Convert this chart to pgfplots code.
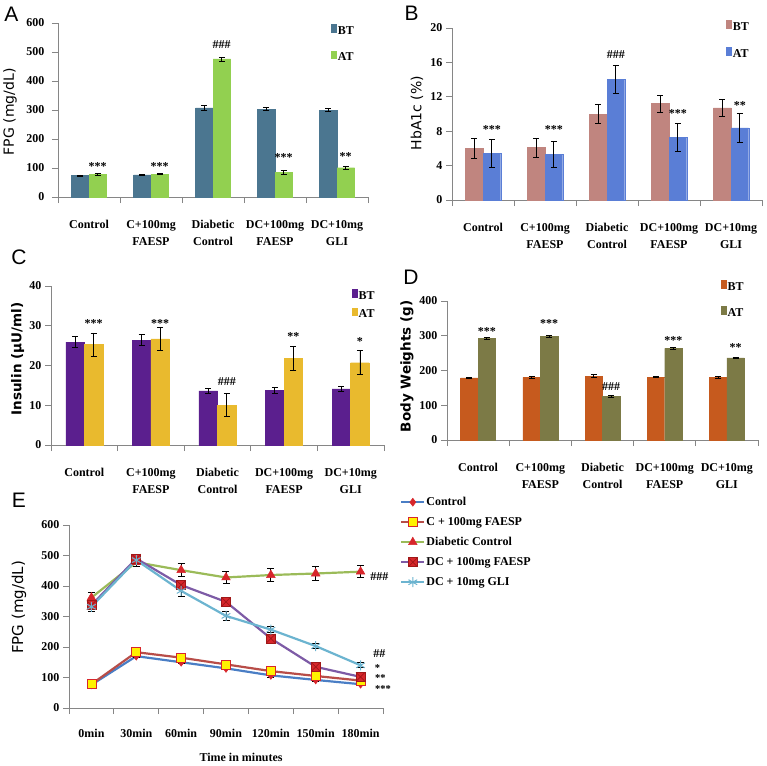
\documentclass[border=0pt]{standalone}
\usepackage{fontspec}
\usepackage{pgfplots}
\pgfplotsset{compat=1.18}
\setmainfont{Liberation Serif}
\newfontfamily\lsans{Liberation Sans}
\newfontfamily\dsans{DejaVu Sans}
\definecolor{axgray}{HTML}{868686}
\definecolor{aBT}{HTML}{4B7690}
\definecolor{aAT}{HTML}{92D050}
\definecolor{bBT}{HTML}{C0857F}
\definecolor{bAT}{HTML}{5A7ED6}
\definecolor{cBT}{HTML}{5B1F8E}
\definecolor{cAT}{HTML}{E9BA2E}
\definecolor{dBT}{HTML}{C65A1E}
\definecolor{dAT}{HTML}{7C7A46}
\definecolor{eC}{HTML}{4A7EC5}
\definecolor{eCF}{HTML}{B84D48}
\definecolor{eDC}{HTML}{9BBB59}
\definecolor{eDF}{HTML}{7D5BA6}
\definecolor{eG}{HTML}{6CB4D0}
\definecolor{mred}{HTML}{D7262B}
\definecolor{dred}{HTML}{A01818}
\newcommand{\tf}{\bfseries\fontsize{12}{14}\selectfont}
\newcommand{\sgf}{\bfseries\fontsize{12}{12}\selectfont}
\newcommand{\ssgf}{\bfseries\fontsize{10.5}{10.5}\selectfont}
\newcommand{\ylf}{\dsans\fontsize{14}{14}\selectfont}
\newcommand{\ylbf}{\dsans\bfseries\fontsize{13.5}{14}\selectfont}
\newcommand{\letf}{\lsans\fontsize{21}{21}\selectfont}
\pgfdeclareplotmark{sqx}{%
  \pgfpathrectangle{\pgfqpoint{-\pgfplotmarksize}{-\pgfplotmarksize}}{\pgfqpoint{2\pgfplotmarksize}{2\pgfplotmarksize}}%
  \pgfusepathqfillstroke
  \pgfpathmoveto{\pgfqpoint{-\pgfplotmarksize}{-\pgfplotmarksize}}%
  \pgfpathlineto{\pgfqpoint{\pgfplotmarksize}{\pgfplotmarksize}}%
  \pgfpathmoveto{\pgfqpoint{-\pgfplotmarksize}{\pgfplotmarksize}}%
  \pgfpathlineto{\pgfqpoint{\pgfplotmarksize}{-\pgfplotmarksize}}%
  \pgfusepathqstroke}
\tikzset{sig/.style={font=\sgf, inner sep=0pt}, ssig/.style={font=\ssgf, inner sep=0pt}}
\pgfplotsset{
 base/.style={
  scale only axis, clip=false,
  axis x line*=bottom, axis y line*=left,
  axis line style={draw=axgray, line width=0.9pt},
  tick style={draw=axgray, line width=0.9pt},
  tick align=outside, major tick length=6pt,
  ymin=0,
  /pgf/number format/assume math mode=true,
  tick label style={font=\tf},
  ylabel style={anchor=center},
 },
 barleg/.style={legend image code/.code={\fill[##1, draw=none] (0pt,-1.5pt) rectangle (5.5pt,7pt);}},
 eleg/.style={legend image code/.code={\draw[##1, mark repeat=2, mark phase=2] plot coordinates {(0pt,0pt) (11.5pt,0pt) (23pt,0pt)};}},
 barax/.style={base,
  ybar=0pt, bar width=17.5pt,
  xmin=0.5, xmax=5.5,
  xtick={0.5,1.5,2.5,3.5,4.5,5.5}, xticklabels={},
  extra x ticks={1,2,3,4,5},
  extra x tick labels={{Control},{C+100mg\\FAESP},{Diabetic\\Control},{DC+100mg\\FAESP},{DC+10mg\\GLI}},
  extra x tick style={major tick length=0pt, tick label style={align=center, font=\bfseries\fontsize{12}{17}\selectfont, yshift=-20pt}},
  every axis plot/.append style={error bars/y dir=both, error bars/y explicit, error bars/error bar style={black, line width=0.8pt}, error bars/error mark options={black, line width=0.8pt, mark size=3pt, rotate=90}},
  barleg,
  legend style={draw=none, fill=none, inner sep=0pt, font=\tf, anchor=north west, nodes={inner sep=1pt}, column sep=0pt},
  legend cell align=left,
 },
}
\begin{document}
\begin{tikzpicture}
\path[use as bounding box] (0,0) rectangle (767pt,-765pt);
% ---------------- A
\begin{axis}[barax, at={(58pt,-197pt)}, anchor=south west, width=310pt, height=174pt,
 ymax=600, ytick={0,100,...,600}, yticklabel style={xshift=-4pt},
 ylabel={FPG (mg/dL)}, ylabel style={font=\ylf, at={(axis description cs:-0.155,0.49)}},
 legend style={at={(0.881,0.995)}, row sep=14pt}]
\addplot[fill=aBT, draw=aBT] coordinates {(1,74)+-(0,2) (2,76)+-(0,2) (3,307)+-(0,8) (4,303)+-(0,5) (5,300)+-(0,4)};
\addplot[fill=aAT, draw=aAT] coordinates {(1,78)+-(0,3) (2,79)+-(0,2) (3,476)+-(0,7) (4,85)+-(0,6) (5,101)+-(0,5)};
\legend{BT,AT}
\node[sig] at (axis cs:1.141,105) {***};
\node[sig] at (axis cs:2.141,105) {***};
\node[sig] at (axis cs:3.141,524) {\#\#\#};
\node[sig] at (axis cs:4.141,136) {***};
\node[sig] at (axis cs:5.141,140) {**};
\end{axis}
% ---------------- B
\begin{axis}[barax, at={(452pt,-200pt)}, anchor=south west, width=310pt, height=172pt, bar width=17.7pt,
 ymax=20, ytick={0,4,...,20},
 ylabel={HbA1c (\%)}, ylabel style={font=\ylf, at={(axis description cs:-0.113,0.506)}},
 legend style={at={(0.884,1.047)}, row sep=14.5pt}]
\addplot[fill=bBT, draw=bBT] coordinates {(1,6.0)+-(0,1.2) (2,6.1)+-(0,1.1) (3,10.0)+-(0,1.1) (4,11.2)+-(0,1.0) (5,10.7)+-(0,1.0)};
\addplot[fill=bAT, draw=bAT] coordinates {(1,5.4)+-(0,1.6) (2,5.3)+-(0,1.5) (3,14.0)+-(0,1.6) (4,7.3)+-(0,1.6) (5,8.4)+-(0,1.7)};
\legend{BT,AT}
\node[sig] at (axis cs:1.143,8.15) {***};
\node[sig] at (axis cs:2.143,8.15) {***};
\node[sig] at (axis cs:3.143,16.9) {\#\#\#};
\node[sig] at (axis cs:4.143,10.05) {***};
\node[sig] at (axis cs:5.143,10.95) {**};
\end{axis}
% ---------------- C
\begin{axis}[barax, at={(51pt,-445pt)}, anchor=south west, width=333pt, height=159pt, bar width=18.5pt,
 ymax=40, ytick={0,10,...,40},
 ylabel={Insulin (µU/ml)}, ylabel style={font=\ylbf, at={(axis description cs:-0.10,0.54)}},
 legend style={at={(0.904,0.982)}, row sep=6pt}]
\addplot[fill=cBT, draw=cBT] coordinates {(1,25.9)+-(0,1.4) (2,26.4)+-(0,1.4) (3,13.6)+-(0,0.7) (4,13.8)+-(0,0.7) (5,14.1)+-(0,0.7)};
\addplot[fill=cAT, draw=cAT] coordinates {(1,25.3)+-(0,2.9) (2,26.7)+-(0,3.0) (3,10.0)+-(0,2.9) (4,21.8)+-(0,3.0) (5,20.7)+-(0,3.0)};
\legend{BT,AT}
\node[sig] at (axis cs:1.139,30.6) {***};
\node[sig] at (axis cs:2.139,30.6) {***};
\node[sig] at (axis cs:3.139,15.9) {\#\#\#};
\node[sig] at (axis cs:4.139,27.3) {**};
\node[sig] at (axis cs:5.139,26.0) {*};
\end{axis}
% ---------------- D
\begin{axis}[barax, at={(447pt,-440pt)}, anchor=south west, width=311pt, height=139pt, bar width=17.5pt,
 ymax=400, ytick={0,100,...,400},
 ylabel={Body Weights (g)}, ylabel style={font=\ylbf, at={(axis description cs:-0.129,0.53)}},
 legend style={at={(0.881,1.152)}, row sep=13.5pt}]
\addplot[fill=dBT, draw=dBT] coordinates {(1,179)+-(0,2) (2,180)+-(0,2) (3,184)+-(0,4) (4,181)+-(0,2) (5,180)+-(0,2)};
\addplot[fill=dAT, draw=dAT] coordinates {(1,292)+-(0,3) (2,298)+-(0,2) (3,125)+-(0,2) (4,264)+-(0,2) (5,236)+-(0,2)};
\legend{BT,AT}
\node[sig] at (axis cs:1.14,312) {***};
\node[sig] at (axis cs:2.14,336) {***};
\node[sig] at (axis cs:3.14,153) {\#\#\#};
\node[sig] at (axis cs:4.14,287) {***};
\node[sig] at (axis cs:5.14,265) {**};
\end{axis}
% ---------------- E
\begin{axis}[base, at={(69pt,-708pt)}, anchor=south west, width=314pt, height=183pt,
 xmin=-0.5, xmax=6.5, ymax=600, ytick={0,100,...,600},
 xtick={-0.5,0.5,1.5,2.5,3.5,4.5,5.5,6.5}, xticklabels={},
 extra x ticks={0,1,2,3,4,5,6}, extra x tick labels={0min,30min,60min,90min,120min,150min,180min},
 extra x tick style={major tick length=0pt, tick label style={yshift=-18pt}},
 xlabel={Time in minutes}, xlabel style={font=\tf, at={(axis description cs:0.548,-0.268)}, anchor=center},
 ylabel={FPG (mg/dL)}, ylabel style={font=\dsans\fontsize{15}{15}\selectfont, at={(axis description cs:-0.159,0.55)}},
 eleg,
 legend style={draw=none, fill=none, inner sep=0pt, font=\tf, at={(1,1)}, anchor=north west, xshift=17pt, yshift=29.5pt, nodes={inner sep=1pt, text height=8.5pt, text depth=2.5pt}, row sep=7pt, column sep=0pt},
 legend cell align=left,
 every axis plot/.append style={line width=2.2pt, error bars/y dir=both, error bars/y explicit, error bars/error bar style={black, line width=0.8pt}, error bars/error mark options={black, line width=0.8pt, mark size=3.5pt, rotate=90}},
]
\addplot[color=eC, mark=diamond*, mark size=4pt, mark options={fill=mred, draw=mred, line width=0.5pt}]
 coordinates {(0,76)+-(0,5) (1,170)+-(0,5) (2,150)+-(0,5) (3,130)+-(0,5) (4,107)+-(0,5) (5,92)+-(0,5) (6,78)+-(0,5)};
\addplot[color=eCF, mark=square*, mark size=4.5pt, mark options={fill=yellow, draw=mred, line width=0.6pt}]
 coordinates {(0,78)+-(0,5) (1,183)+-(0,5) (2,165)+-(0,5) (3,143)+-(0,5) (4,121)+-(0,5) (5,105)+-(0,5) (6,90)+-(0,5)};
\addplot[color=eDC, mark=triangle*, mark size=5pt, mark options={fill=mred, draw=mred, line width=0.5pt}]
 coordinates {(0,362)+-(0,18) (1,478)+-(0,15) (2,452)+-(0,22) (3,428)+-(0,20) (4,436)+-(0,22) (5,441)+-(0,22) (6,447)+-(0,20)};
\addplot[color=eDF, mark=sqx, mark size=4.5pt, mark options={fill=mred, draw=dred, line width=0.7pt}]
 coordinates {(0,337)+-(0,15) (1,490)+-(0,15) (2,403)+-(0,12) (3,348)+-(0,10) (4,228)+-(0,10) (5,135)+-(0,10) (6,102)+-(0,8)};
\addplot[color=eG, mark=asterisk, mark size=5pt, mark options={draw=eG, line width=1pt}]
 coordinates {(0,332)+-(0,15) (1,485)+-(0,15) (2,384)+-(0,18) (3,302)+-(0,15) (4,257)+-(0,10) (5,203)+-(0,8) (6,140)+-(0,8)};
\legend{Control, C + 100mg FAESP, Diabetic Control, DC + 100mg FAESP, DC + 10mg GLI}
\node[sig] at (axis cs:6.42,430) {\#\#\#};
\node[sig] at (axis cs:6.42,180) {\#\#};
\node[ssig] at (axis cs:6.38,130) {*};
\node[ssig] at (axis cs:6.44,97) {**};
\node[ssig] at (axis cs:6.50,63) {***};
\end{axis}
\node[font=\letf] at (11.5pt,-14.5pt) {A};
\node[font=\letf] at (411.5pt,-13.5pt) {B};
\node[font=\letf] at (19pt,-257pt) {C};
\node[font=\letf] at (411pt,-277pt) {D};
\node[font=\letf] at (19pt,-500pt) {E};
\end{tikzpicture}
\end{document}
